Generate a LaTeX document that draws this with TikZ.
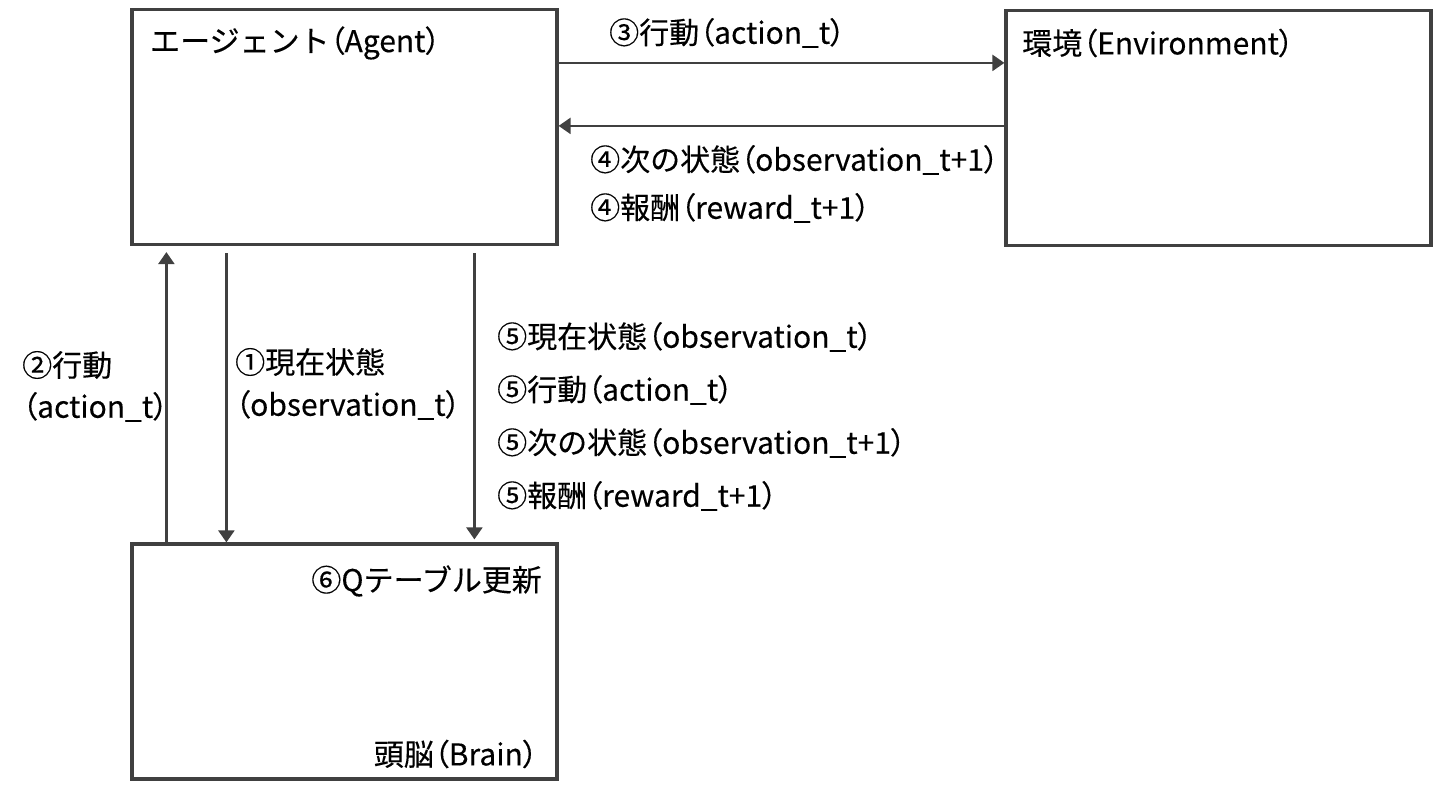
\documentclass[tikz,border=0pt]{standalone}
\usepackage{fontspec}
\setmainfont{Noto Sans CJK JP}[FakeBold=0.3]
\usepackage{tikz}
\usetikzlibrary{arrows.meta,positioning}
\definecolor{linegray}{HTML}{404040}
\newcommand\lp{{\addfontfeature{CharacterWidth=AlternateProportional}（}}
\newcommand\rp{{\addfontfeature{CharacterWidth=AlternateProportional}）}}

\begin{document}
\begin{tikzpicture}[x=1pt,y=1pt,
  box/.style={draw=linegray,line width=3.2pt,minimum width=425pt,minimum height=235pt,inner sep=0pt},
  flow/.style={draw=linegray,line width=2.4pt,-{Triangle[length=12pt,width=16pt]}},
  lbl/.style={inner sep=0pt,anchor=west,font=\fontsize{30}{36}\selectfont},
  rlbl/.style={lbl,anchor=east}]
 %the agent / environment / brain loop
  \useasboundingbox (0,0) rectangle (1454,801);
  %draw boxes
    \node[box] (agent) at (344.5,674) {};
    \node[box] (env) at (1218.5,673) {};
    \node[box] (brain) at (344.5,139.5) {};
  %draw arrows
    \draw[flow] ([yshift=-55]agent.north east) -- ([yshift=-55]agent.north east -| env.west);
    \draw[flow] ([yshift=-118]agent.north east -| env.west) -- ([yshift=-118]agent.north east);
    \draw[flow] ([xshift=36]brain.north west) -- ([xshift=36,yshift=-6]agent.south west);
    \draw[flow] ([xshift=96,yshift=-7]agent.south west) -- ([xshift=96]brain.north west);
    \draw[flow] ([xshift=344,yshift=-7]agent.south west) -- ([xshift=344,yshift=3]brain.north west);
  %box titles
    \node[lbl] (agentname) at (150,758) {エージェント\lp Agent\rp};
    \node[lbl] (envname) at (1022,758) {環境\lp Environment\rp};
    \node[rlbl] (update) at (542,220) {⑥Qテーブル更新};
    \node[rlbl] (brainname) at (538,47) {頭脳\lp Brain\rp};
  %step labels
    \node[lbl] (s3) at (609,768) {③行動\lp action\_t\rp};
    \node[lbl] (s4a) at (590,641) {④次の状態\lp observation\_t+1\rp};
    \node[lbl] (s4b) at (590,593) {④報酬\lp reward\_t+1\rp};
    \node[lbl] (s2a) at (22,436) {②行動};
    \node[lbl] (s2b) at (22,394) {\lp action\_t\rp};
    \node[lbl] (s1a) at (235,439) {①現在状態};
    \node[lbl] (s1b) at (235,396) {\lp observation\_t\rp};
    \node[lbl] (s5a) at (497,464) {⑤現在状態\lp observation\_t\rp};
    \node[lbl] (s5b) at (497,411) {⑤行動\lp action\_t\rp};
    \node[lbl] (s5c) at (497,358) {⑤次の状態\lp observation\_t+1\rp};
    \node[lbl] (s5d) at (497,305) {⑤報酬\lp reward\_t+1\rp};
\end{tikzpicture}
\end{document}
